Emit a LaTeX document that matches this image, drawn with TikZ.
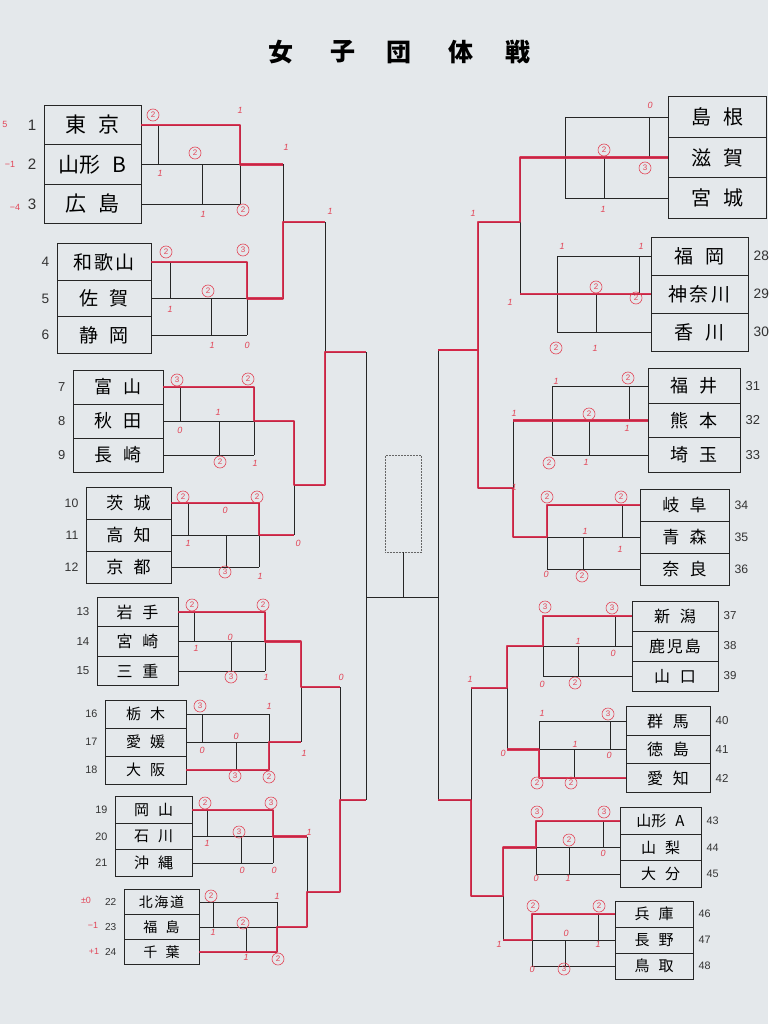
\documentclass[tikz,border=0pt]{standalone}
\usepackage{fontspec}
\newfontfamily\jp{Noto Sans CJK JP}
\newfontfamily\lat{Liberation Sans}
\newcommand\wgap{\hspace{.6em}}
\newcommand\ngap{\hspace{.12em}}
\definecolor{paper}{RGB}{228,232,235}
\definecolor{marker}{RGB}{214,38,72}
\definecolor{pen}{RGB}{226,70,88}

\begin{document}
\begin{tikzpicture}[x=1pt,y=-1pt,
  team/.style={draw=black!85, line width=0.9pt, inner sep=0pt},
  brk/.style={black!85, line width=0.75pt},
  win/.style={marker, line width=2.8pt, line join=round, opacity=0.9},
  sc/.style={text=pen, font=\lat\itshape\fontsize{9}{9}\selectfont, inner sep=0pt},
  csc/.style={sc, font=\lat\fontsize{8}{8}\selectfont, circle, draw=pen, line width=0.6pt, minimum size=12pt},
  num/.style={inner sep=0pt, text=black!80}]

\fill[paper] (0,0) rectangle (768,1024);
\useasboundingbox (0,0) rectangle (768,1024);

% title
\foreach \x/\c in {281/女,343/子,399/団,461/体,518/戦}
  \node[font=\jp\bfseries\fontsize{25}{25}\selectfont] (ttl\x) at (\x,52) {\c};

% left blocks
\foreach \bl/\br/\ya/\dy/\xa/\xb/\xc/\xd/\fs/\n/\ta/\tb/\tc in {
  44/141/125/39.5/158/202/240/283/21/1/東\wgap 京/山形\wgap B/広\wgap 島,
  57/151/262/36.5/170/211/247/283/19/4/和\ngap 歌\ngap 山/佐\wgap 賀/静\wgap 岡,
  73/163/387/34/180/219/254/294/18/7/富\wgap 山/秋\wgap 田/長\wgap 崎,
  86/171/503/32/188/226/259/294/17/10/茨\wgap 城/高\wgap 知/京\wgap 都,
  97/178/612/29.5/194/231/265/301/16/13/岩\wgap 手/宮\wgap 崎/三\wgap 重,
  105/186/714/28/202/236/269/301/15/16/栃\wgap 木/愛\wgap 媛/大\wgap 阪,
  115/192/810/26.5/207/241/273/307/15/19/岡\wgap 山/石\wgap 川/沖\wgap 縄,
  124/199/902/25/213/246/277/307/14/22/北\ngap 海\ngap 道/福\wgap 島/千\wgap 葉}
{
  \pgfmathsetmacro\yb{\ya+\dy}
  \pgfmathsetmacro\yc{\ya+2*\dy}
  \pgfmathsetmacro\xm{(\bl+\br)/2}
  \pgfmathsetlengthmacro\ww{\br-\bl}
  \pgfmathsetlengthmacro\hh{\dy}
  \pgfmathsetmacro\ns{0.72*\fs}
  \pgfmathtruncatemacro\nb{\n+1}
  \pgfmathtruncatemacro\nc{\n+2}
  \tikzset{cell/.style={team, minimum width=\ww, minimum height=\hh, font=\jp\fontsize{\fs}{\fs}\selectfont}}
  \node[cell] (t\n) at (\xm,\ya) {\ta};
  \node[cell] (t\nb) at (\xm,\yb) {\tb};
  \node[cell] (t\nc) at (\xm,\yc) {\tc};
  \foreach \k in {\n,\nb,\nc}
    \node[num, anchor=east, font=\lat\fontsize{\ns}{\ns}\selectfont] (n\k) at ([xshift=-7pt]t\k.west) {\k};
  \draw[brk] (t\n.east) -- (\xc,\ya);
  \draw[brk] (t\nb.east) -- (\xc,\yb);
  \draw[brk] (t\nc.east) -- (\xc,\yc);
  \draw[brk] (\xa,\ya) -- (\xa,\yb);
  \draw[brk] (\xb,\yb) -- (\xb,\yc);
  \draw[brk] (\xc,\ya) -- (\xc,\yc);
  \coordinate (m\n) at (\xc,\yb);
  \coordinate (g\n) at (\xd,\yb);
  \draw[brk] (m\n) -- (g\n);
}

% right blocks (25-27 have their numbers off the sheet)
\foreach \bl/\br/\ya/\dy/\xa/\xb/\xc/\xd/\fs/\n/\ta/\tb/\tc in {
  668/766/117/40.5/649/604/565/520/20/25/島\wgap 根/滋\wgap 賀/宮\wgap 城,
  651/748/256/38/639/596/557/520/19/28/福\wgap 岡/神\ngap 奈\ngap 川/香\wgap 川,
  648/740/386/34.5/629/589/552/513/18/31/福\wgap 井/熊\wgap 本/埼\wgap 玉,
  640/729/505/32/622/583/547/513/17/34/岐\wgap 阜/青\wgap 森/奈\wgap 良,
  632/718/616/30/615/578/543/507/16/37/新\wgap 潟/鹿\ngap 児\ngap 島/山\wgap 口,
  626/710/721/28.5/610/574/539/507/16/40/群\wgap 馬/徳\wgap 島/愛\wgap 知,
  620/701/821/26.5/603/569/536/503/15/43/山形\wgap A/山\wgap 梨/大\wgap 分,
  615/693/914/26/598/565/532/503/15/46/兵\wgap 庫/長\wgap 野/鳥\wgap 取}
{
  \pgfmathsetmacro\yb{\ya+\dy}
  \pgfmathsetmacro\yc{\ya+2*\dy}
  \pgfmathsetmacro\xm{(\bl+\br)/2}
  \pgfmathsetlengthmacro\ww{\br-\bl}
  \pgfmathsetlengthmacro\hh{\dy}
  \pgfmathsetmacro\ns{0.72*\fs}
  \pgfmathtruncatemacro\nb{\n+1}
  \pgfmathtruncatemacro\nc{\n+2}
  \tikzset{cell/.style={team, minimum width=\ww, minimum height=\hh, font=\jp\fontsize{\fs}{\fs}\selectfont}}
  \node[cell] (t\n) at (\xm,\ya) {\ta};
  \node[cell] (t\nb) at (\xm,\yb) {\tb};
  \node[cell] (t\nc) at (\xm,\yc) {\tc};
  \foreach \k in {\n,\nb,\nc}{
    \ifnum\k>27
      \node[num, anchor=west, font=\lat\fontsize{\ns}{\ns}\selectfont] (n\k) at ([xshift=5pt]t\k.east) {\k};
    \fi}
  \draw[brk] (t\n.west) -- (\xc,\ya);
  \draw[brk] (t\nb.west) -- (\xc,\yb);
  \draw[brk] (t\nc.west) -- (\xc,\yc);
  \draw[brk] (\xa,\ya) -- (\xa,\yb);
  \draw[brk] (\xb,\yb) -- (\xb,\yc);
  \draw[brk] (\xc,\ya) -- (\xc,\yc);
  \coordinate (m\n) at (\xc,\yb);
  \coordinate (g\n) at (\xd,\yb);
  \draw[brk] (m\n) -- (g\n);
}

% upper rounds, left
\coordinate (s1) at (325,222);
\coordinate (s7) at (325,485);
\coordinate (s13) at (340,687);
\coordinate (s19) at (340,892);
\coordinate (f1) at (366,352);
\coordinate (f13) at (366,800);
\draw[brk] (g1) -- (g4) (g1 |- s1) -- (s1);
\draw[brk] (g7) -- (g10) (g7 |- s7) -- (s7);
\draw[brk] (g13) -- (g16) (g13 |- s13) -- (s13);
\draw[brk] (g19) -- (g22) (g19 |- s19) -- (s19);
\draw[brk] (s1) -- (s7) (s1 |- f1) -- (f1);
\draw[brk] (s13) -- (s19) (s13 |- f13) -- (f13);
\draw[brk] (f1) -- (f13);

% upper rounds, right
\coordinate (s25) at (478,222);
\coordinate (s31) at (478,488);
\coordinate (s37) at (471,688);
\coordinate (s43) at (471,896);
\coordinate (f25) at (438,350);
\coordinate (f37) at (438,800);
\draw[brk] (g25) -- (g28) (g25 |- s25) -- (s25);
\draw[brk] (g31) -- (g34) (g31 |- s31) -- (s31);
\draw[brk] (g37) -- (g40) (g37 |- s37) -- (s37);
\draw[brk] (g43) -- (g46) (g43 |- s43) -- (s43);
\draw[brk] (s25) -- (s31) (s25 |- f25) -- (f25);
\draw[brk] (s37) -- (s43) (s37 |- f37) -- (f37);
\draw[brk] (f25) -- (f37);

% final
\coordinate (fin) at (403,597);
\node[draw=black!60, densely dotted, line width=0.5pt, minimum width=36pt, minimum height=97pt] (champ) at (403,503.5) {};
\draw[brk] (f1 |- fin) -- (f25 |- fin);
\draw[brk] (fin) -- (champ.south);

% winners in red
\draw[win] (t1.east) -| (m1) -- (g1);
\draw[win] (t4.east) -| (m4) -- (g4) |- (s1);
\draw[win] (t7.east) -| (m7) -- (g7) |- (s7) |- (f1);
\draw[win] (t10.east) -| (m10) -- (g10);
\draw[win] (t13.east) -| (m13) -- (g13) |- (s13);
\draw[win] (t18.east) -| (m16) -- (g16);
\draw[win] (t19.east) -| (m19) -- (g19);
\draw[win] (t24.east) -| (m22) -- (g22) |- (s19) |- (f13);
\draw[win] (t26.west) -- (g25) |- (s25) |- (f25);
\draw[win] (t29.west) -- (g28);
\draw[win] (t32.west) -- (g31);
\draw[win] (t34.west) -| (m34) -- (g34) |- (s31) |- (f25);
\draw[win] (t37.west) -| (m37) -- (g37) |- (s37);
\draw[win] (t42.west) -| (m40) -- (g40);
\draw[win] (t43.west) -| (m43) -- (g43) |- (s43) |- (f37);
\draw[win] (t46.west) -| (m46) -- (g46);

% scores
\foreach \x/\y/\s in {
  240/110/1, 160/173/1, 203/214/1, 286/147/1,
  170/309/1, 212/345/1, 247/345/0, 330/211/1,
  218/412/1, 180/430/0, 255/463/1,
  225/510/0, 188/543/1, 260/576/1, 298/543/0,
  230/637/0, 196/648/1, 266/677/1, 341/677/0,
  269/706/1, 236/736/0, 202/750/0, 304/753/1,
  207/843/1, 242/870/0, 274/870/0, 309/832/1,
  277/896/1, 213/932/1, 246/957/1,
  650/105/0, 603/209/1, 473/213/1,
  562/246/1, 641/246/1, 595/348/1, 510/302/1,
  556/381/1, 627/428/1, 514/413/1, 586/462/1, 514/487/1,
  585/531/1, 620/549/1, 546/574/0,
  578/641/1, 613/653/0, 542/684/0, 470/679/1,
  542/713/1, 575/744/1, 609/755/0, 503/753/0,
  603/853/0, 536/878/0, 568/878/1,
  566/933/0, 598/944/1, 499/944/1, 532/969/0}
  \node[sc] (p\x-\y) at (\x,\y) {\s};
\foreach \x/\y/\s in {
  153/115/2, 195/153/2, 243/210/2,
  166/252/2, 243/250/3, 208/291/2,
  177/380/3, 248/379/2, 220/462/2,
  183/497/2, 257/497/2, 225/572/3,
  192/605/2, 263/605/2, 231/677/3,
  200/706/3, 235/776/3, 269/777/2,
  205/803/2, 271/803/3, 239/832/3,
  211/896/2, 243/923/2, 278/959/2,
  604/150/2, 645/168/3,
  596/287/2, 636/298/2, 556/348/2,
  628/378/2, 589/414/2, 549/463/2,
  547/497/2, 621/497/2, 582/576/2,
  545/607/3, 612/608/3, 575/683/2,
  608/714/3, 537/783/2, 571/783/2,
  537/812/3, 604/812/3, 569/840/2,
  533/906/2, 599/906/2, 564/969/3}
  \node[csc] (c\x-\y) at (\x,\y) {\s};

% notes beside the numbers
\foreach \x/\y/\s in {5/124/5, 10/164/−1, 15/207/−4, 86/900/±0, 93/925/−1, 94/951/+1}
  \node[sc, font=\lat\fontsize{9}{9}\selectfont] (a\x) at (\x,\y) {\s};
\end{tikzpicture}
\end{document}
